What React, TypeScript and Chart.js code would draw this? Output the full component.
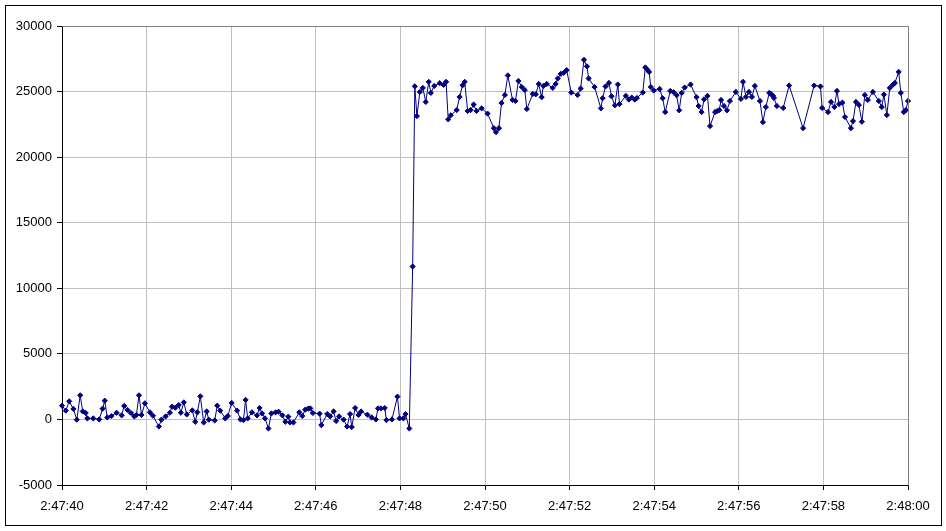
import React, { useEffect, useRef } from "react";
import { Chart, registerables } from "chart.js";

Chart.register(...registerables);

// Seconds after 2:47:40 and measured values, before the step
const baselineTimes = [
  0.00, 0.09, 0.17, 0.27, 0.35, 0.43, 0.49, 0.56, 0.60, 0.74,
  0.88, 0.96, 1.01, 1.07, 1.17, 1.29, 1.41, 1.47, 1.55, 1.63,
  1.71, 1.76, 1.82, 1.88, 1.96, 2.08, 2.15, 2.29, 2.35, 2.45,
  2.55, 2.60, 2.68, 2.76, 2.81, 2.88, 2.95, 3.08, 3.15, 3.20,
  3.27, 3.35, 3.42, 3.47, 3.61, 3.67, 3.74, 3.86, 3.92, 4.01,
  4.14, 4.22, 4.29, 4.34, 4.39, 4.49, 4.61, 4.67, 4.73, 4.80,
  4.88, 4.95, 5.05, 5.12, 5.21, 5.28, 5.35, 5.39, 5.47, 5.61,
  5.68, 5.75, 5.82, 5.87, 5.93, 6.09, 6.13, 6.27, 6.34, 6.42,
  6.48, 6.55, 6.66, 6.74, 6.81, 6.85, 6.93, 7.01, 7.07, 7.22,
  7.32, 7.42, 7.47, 7.54, 7.63, 7.67, 7.80, 7.93, 7.98, 8.07,
  8.12, 8.21, 8.29,
];
const baselineValues = [
  1050, 670, 1380, 800, -20, 1840, 610, 490, 80, 80,
  0, 820, 1430, 150, 260, 510, 310, 1030, 720, 490,
  230, 340, 1840, 340, 1230, 540, 280, -540, -20, 230,
  510, 970, 900, 1100, 510, 1300, 380, 690, -180, 540,
  1760, -230, 610, -20, -80, 1050, 670, 80, 260, 1260,
  670, 0, -50, 1490, 80, 540, 310, 870, 460, 80,
  -690, 460, 540, 590, 310, -180, 210, -230, -230, 540,
  260, 740, 820, 840, 490, 440, -430, 410, 230, 610,
  -120, 230, -20, -540, 410, -580, 870, 340, 610, 360,
  150, 0, 840, 840, 870, -50, 0, 1740, 80, 80,
  410, -690, 11660,
];

// After the step
const plateauTimes = [
  8.34, 8.39, 8.46, 8.53, 8.60, 8.67, 8.72, 8.80, 8.93, 9.02,
  9.08, 9.13, 9.19, 9.33, 9.40, 9.47, 9.52, 9.59, 9.66, 9.73,
  9.80, 9.92, 10.06, 10.21, 10.26, 10.33, 10.39, 10.47, 10.54, 10.65,
  10.72, 10.79, 10.87, 10.94, 10.99, 11.13, 11.20, 11.27, 11.34, 11.38,
  11.46, 11.60, 11.67, 11.72, 11.79, 11.86, 11.93,
  12.04, 12.19, 12.26, 12.34, 12.41, 12.45, 12.59, 12.74, 12.78, 12.85,
  12.93, 12.99, 13.07, 13.14, 13.18, 13.33, 13.40, 13.47, 13.54, 13.59,
  13.73, 13.79, 13.84, 13.88, 13.92, 13.99, 14.13, 14.20, 14.26, 14.38,
  14.46, 14.53, 14.59, 14.65, 14.72, 14.86, 15.00, 15.05, 15.12, 15.18,
  15.26, 15.32, 15.44, 15.49, 15.54, 15.58, 15.65, 15.72, 15.79, 15.93,
  16.05, 16.10, 16.17, 16.24, 16.31, 16.38, 16.50, 16.57, 16.64, 16.72,
  16.76, 16.81, 16.83, 16.90, 17.05, 17.19, 17.52, 17.78, 17.93, 17.97,
  18.11, 18.18, 18.26, 18.32, 18.37, 18.45, 18.51, 18.65, 18.70, 18.77,
  18.84, 18.91, 18.98, 19.05, 19.17, 19.31, 19.38, 19.43, 19.50, 19.57,
  19.64, 19.69, 19.78, 19.83, 19.90, 19.95, 20.00,
];
const plateauValues = [
  25400, 23130, 24970, 25280, 24210, 25740, 24900, 25430, 25640, 25510,
  25740, 22880, 23190, 23590, 24590, 25480, 25740, 23520, 23590, 24010,
  23520, 23720, 23320, 22210, 21910, 22210, 24130, 24740, 26230, 24360,
  24280, 25810, 25350, 25120, 23670, 24820, 24790, 25580, 24570, 25430,
  25580, 25280, 25580, 26000, 26350, 26430, 26630,
  24930, 24740, 25230, 27420, 26920, 26000, 25350, 23720, 24490, 25390,
  25660, 24640, 23950, 25540, 24050, 24670, 24390, 24540, 24390, 24510,
  24930, 26840, 26660, 26500, 25350, 25080, 25200, 24490, 23440, 25050,
  24950, 24720, 23570, 24900, 25310, 25540, 24570, 23900, 23440, 24410,
  24670, 22370, 23440, 23520, 23590, 24360, 23900, 23570, 24280, 24970,
  24440, 25740, 24590, 24970, 24590, 25430, 24280, 22670, 23820, 24900,
  24820, 24670, 24510, 23900, 23750, 25460, 22210, 25460, 25390, 23750,
  23440, 24210, 23820, 25050, 24050, 24160, 23060, 22210, 22750, 24210,
  23980, 22700, 24740, 24360, 24970, 24280, 23820, 24770, 23210, 25280,
  25510, 25660, 26500, 24900, 23440, 23590, 24280,
];

const xTickLabels = [
  "2:47:40", "2:47:42", "2:47:44", "2:47:46", "2:47:48", "2:47:50",
  "2:47:52", "2:47:54", "2:47:56", "2:47:58", "2:48:00",
];

const yMin = -5000;
const yMax = 30000;
const yStep = 5000;

export default function App() {
  const canvasRef = useRef<HTMLCanvasElement | null>(null);

  useEffect(() => {
    if (!canvasRef.current) return;
    const times = [...baselineTimes, ...plateauTimes];
    const values = [...baselineValues, ...plateauValues];
    const points = times.map((t, i) => ({ x: t, y: values[i] }));

    const plotBorder = {
      id: "plotBorder",
      afterDatasetsDraw(chart: any) {
        const { ctx, chartArea } = chart;
        ctx.save();
        ctx.strokeStyle = "#808080";
        ctx.lineWidth = 1;
        ctx.beginPath();
        ctx.moveTo(Math.round(chartArea.left) + 0.5, Math.round(chartArea.top) + 0.5);
        ctx.lineTo(Math.round(chartArea.right) + 0.5, Math.round(chartArea.top) + 0.5);
        ctx.lineTo(Math.round(chartArea.right) + 0.5, Math.round(chartArea.bottom) + 0.5);
        ctx.stroke();
        ctx.restore();
      },
    };

    const chart = new Chart(canvasRef.current, {
      type: "line",
      data: {
        datasets: [
          {
            data: points,
            borderColor: "#000080",
            backgroundColor: "#000080",
            borderWidth: 1,
            pointStyle: "rectRot",
            pointRadius: 2.6,
            pointBorderWidth: 1,
            pointBorderColor: "#000080",
            pointBackgroundColor: "#000080",
            tension: 0,
            clip: false as any,
          },
        ],
      },
      options: {
        animation: false,
        responsive: false,
        events: [],
        layout: { padding: { top: 26, right: 38, left: 0, bottom: 0 } },
        plugins: { legend: { display: false }, tooltip: { enabled: false } },
        scales: {
          x: {
            type: "linear",
            min: 0,
            max: 20,
            afterFit: (scale: any) => {
              scale.height = 46;
            },
            afterBuildTicks: (scale: any) => {
              scale.ticks = xTickLabels.map((_, i) => ({ value: i * 2 }));
            },
            ticks: {
              stepSize: 2,
              maxRotation: 0,
              autoSkip: false,
              padding: 9,
              color: "#000",
              font: { family: "'Liberation Sans', Arial, sans-serif", size: 13 },
              callback: (v: any) => xTickLabels[Math.round(Number(v) / 2)] ?? "",
            },
            grid: { color: "#c0c0c0", tickColor: "#000", tickLength: 5, lineWidth: 1 },
            border: { color: "#000", width: 1 },
          },
          y: {
            min: yMin,
            max: yMax,
            afterFit: (scale: any) => {
              scale.width = 62;
            },
            ticks: {
              stepSize: yStep,
              padding: 5,
              color: "#000",
              font: { family: "'Liberation Sans', Arial, sans-serif", size: 13 },
              callback: (v: any) => String(v),
            },
            grid: { color: "#c0c0c0", tickColor: "#000", tickLength: 5, lineWidth: 1 },
            border: { color: "#000", width: 1 },
          },
        },
      },
      plugins: [plotBorder],
    });
    return () => chart.destroy();
  }, []);

  return (
    <div style={{ position: "absolute", left: 0, top: 0, width: 946, height: 531, background: "#fff" }}>
      <canvas ref={canvasRef} width={946} height={531} style={{ position: "absolute", left: 0, top: 0 }} />
      <div
        style={{
          position: "absolute",
          left: 5,
          top: 5,
          width: 935,
          height: 519,
          border: "1px solid #000",
          pointerEvents: "none",
        }}
      />
    </div>
  );
}
